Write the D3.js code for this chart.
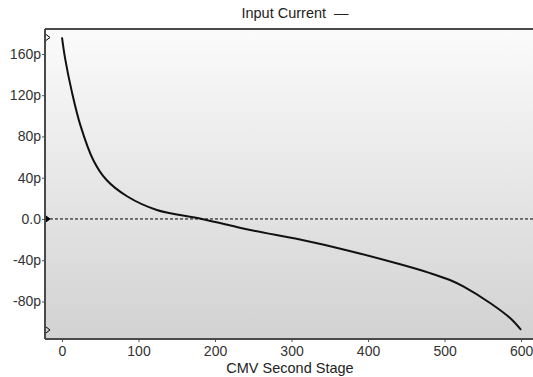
<!DOCTYPE html>
<html>
<head>
<meta charset="utf-8">
<script src="https://cdn.jsdelivr.net/npm/d3@7"></script>
<style>
  body { margin: 0; background: #fff; }
  text { font-family: "Liberation Sans", Arial, sans-serif; }
</style>
</head>
<body>
<div id="chart"></div>
<script>
// CMV Second Stage sweep values
const stageValues = [0, 4, 13, 24, 41, 58, 85, 124, 183, 246, 311, 376, 442, 481, 507, 525, 560, 586, 600];
// Input current, in pA
const currentValues = [176, 156, 123, 91, 57, 38, 22, 8.7, 0, -10.7, -20, -31, -44, -52.5, -59.2, -65.6, -81.7, -96.3, -107.6];
const xTicks = [0, 100, 200, 300, 400, 500, 600];
const yTicks = [160, 120, 80, 40, 0, -40, -80];

const width = 533;
const height = 377;
const margin = { top: 29, right: 0, bottom: 38, left: 45 };

const data = stageValues.map((s, i) => ({ x: s, y: currentValues[i] }));

const svg = d3.select('#chart').append('svg')
  .attr('width', width)
  .attr('height', height);

const x = d3.scaleLinear()
  .domain([-22.2, 615.6])
  .range([margin.left, width - margin.right]);

const y = d3.scaleLinear()
  .domain([-116.4, 184.2])
  .range([height - margin.bottom, margin.top]);

// background gradient
const grad = svg.append('defs').append('linearGradient')
  .attr('id', 'bg')
  .attr('x1', 0).attr('y1', 0).attr('x2', 0).attr('y2', 1);
grad.append('stop').attr('offset', '0%').attr('stop-color', '#fbfbfb');
grad.append('stop').attr('offset', '100%').attr('stop-color', '#d2d2d2');

svg.append('rect')
  .attr('x', margin.left)
  .attr('y', margin.top)
  .attr('width', width - margin.left - margin.right)
  .attr('height', height - margin.top - margin.bottom)
  .attr('fill', 'url(#bg)');

// zero reference line
svg.append('line')
  .attr('x1', margin.left)
  .attr('x2', width)
  .attr('y1', y(0))
  .attr('y2', y(0))
  .attr('stroke', '#000')
  .attr('stroke-width', 1)
  .attr('stroke-dasharray', '3,2');

// curve
const line = d3.line()
  .x(d => x(d.x))
  .y(d => y(d.y))
  .curve(d3.curveCatmullRom.alpha(0.5));

svg.append('path')
  .datum(data)
  .attr('d', line)
  .attr('fill', 'none')
  .attr('stroke', '#111')
  .attr('stroke-width', 2);

// axes
const xAxis = svg.append('g')
  .attr('transform', `translate(0,${height - margin.bottom})`)
  .call(d3.axisBottom(x).tickValues(xTicks).tickSize(3).tickPadding(4));

const yAxis = svg.append('g')
  .attr('transform', `translate(${margin.left},0)`)
  .call(d3.axisLeft(y).tickValues(yTicks).tickSize(3).tickPadding(1)
    .tickFormat(d => d === 0 ? '0.0' : d + 'p'));

[xAxis, yAxis].forEach(a => {
  a.select('.domain').remove();
  a.selectAll('.tick line').attr('stroke', '#555');
  a.selectAll('.tick text')
    .attr('fill', '#333')
    .attr('font-size', 14)
    .attr('font-family', '"Liberation Sans", Arial, sans-serif');
});

// frame: top, left, bottom
const frame = svg.append('g')
  .attr('stroke', '#4a4a4a')
  .attr('stroke-width', 2);
frame.append('line')
  .attr('x1', margin.left).attr('x2', width)
  .attr('y1', margin.top).attr('y2', margin.top);
frame.append('line')
  .attr('x1', margin.left).attr('x2', width)
  .attr('y1', height - margin.bottom).attr('y2', height - margin.bottom);
frame.append('line')
  .attr('x1', margin.left).attr('x2', margin.left)
  .attr('y1', margin.top).attr('y2', height - margin.bottom);

// small markers on the left axis (first value, zero, last value)
const markerVals = [currentValues[0], 0, currentValues[currentValues.length - 1]];
svg.append('g').selectAll('path')
  .data(markerVals)
  .enter().append('path')
  .attr('d', d => {
    const yy = y(d);
    const x0 = margin.left + 1;
    return `M${x0},${yy - 3} L${x0 + 4},${yy} L${x0},${yy + 3}`;
  })
  .attr('fill', d => d === 0 ? '#000' : 'none')
  .attr('stroke', '#000')
  .attr('stroke-width', 1);

// title with legend dash
svg.append('text')
  .attr('x', 295)
  .attr('y', 18)
  .attr('text-anchor', 'middle')
  .attr('font-size', 14.5)
  .attr('fill', '#222')
  .attr('xml:space', 'preserve')
  .style('white-space', 'pre')
  .text('Input Current  \u2014');

// x axis title
svg.append('text')
  .attr('x', 290)
  .attr('y', 373)
  .attr('text-anchor', 'middle')
  .attr('font-size', 14.5)
  .attr('fill', '#222')
  .text('CMV Second Stage');
</script>
</body>
</html>
